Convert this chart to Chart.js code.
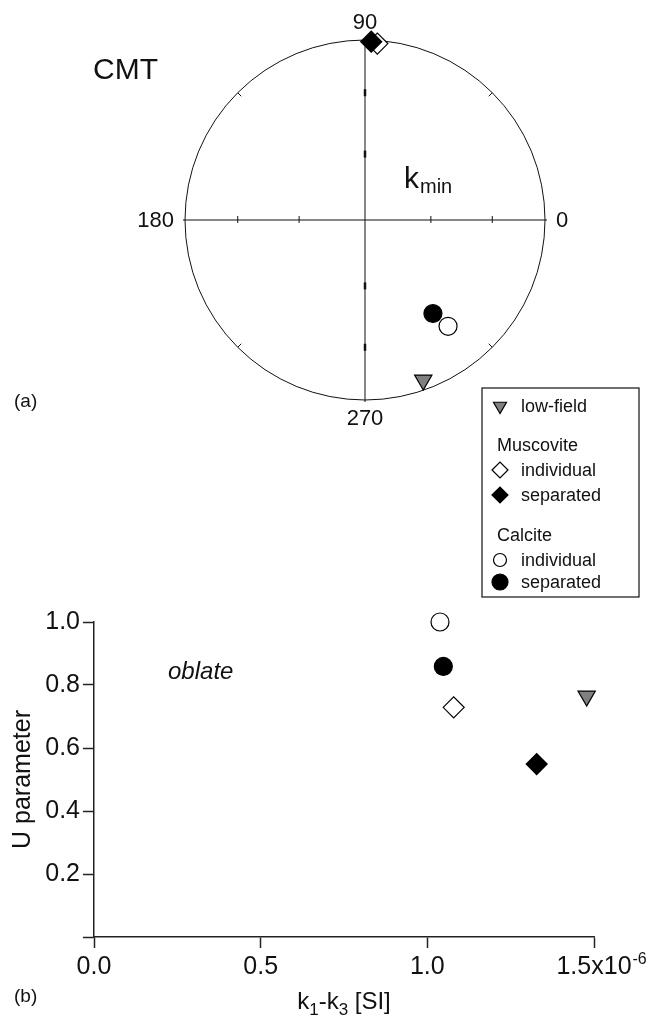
<!DOCTYPE html>
<html>
<head>
<meta charset="utf-8">
<title>CMT k_min and U parameter</title>
<script src="https://cdn.jsdelivr.net/npm/chart.js@4.4.1/dist/chart.umd.min.js"></script>
<style>
  body { margin: 0; background: #fff; }
  .wrap { position: relative; width: 649px; height: 1017px; }
  canvas { position: absolute; left: 0; }
  #net { top: 0; }
  #upar { top: 600px; }
</style>
</head>
<body>
<div class="wrap">
  <canvas id="net" width="649" height="610"></canvas>
  <canvas id="upar" width="649" height="417"></canvas>
</div>
<script>
// sample groups, in legend order
const groups = ['low-field', 'Muscovite individual', 'Muscovite separated', 'Calcite individual', 'Calcite separated'];

// (a) k_min directions: angle round the net and inclination, degrees
const kminDec = [290, 86, 88, 308, 306];
const kminInc = [6, 2, 1, 26, 36];

// (b) k1-k3 (x10^-6 SI) and U parameter
const k1k3 = [1.478, 1.079, 1.328, 1.038, 1.048];
const uParam = [0.765, 0.729, 0.549, 1.0, 0.859];

const xTicks = [0, 0.5, 1.0, 1.5];
const yTicks = [0, 0.2, 0.4, 0.6, 0.8, 1.0];
const netAngles = [0, 90, 180, 270];
const netIncTicks = [30, 60];

const FONT = '"Liberation Sans", Arial, Helvetica, sans-serif';
const INK = '#111';
Chart.defaults.font.family = FONT;
Chart.defaults.color = INK;

const markStyle = {
  'low-field':            { pointStyle: 'triangle', rotation: 180, fill: '#808080', radius: 10,   key: 7.5, order: 0 },
  'Muscovite individual': { pointStyle: 'rectRot',  rotation: 0,   fill: '#ffffff', radius: 10.5, key: 8,   order: 1 },
  'Muscovite separated':  { pointStyle: 'rectRot',  rotation: 0,   fill: '#000000', radius: 10.5, key: 8,   order: 0 },
  'Calcite individual':   { pointStyle: 'circle',   rotation: 0,   fill: '#ffffff', radius: 9,    key: 6.5, order: 1 },
  'Calcite separated':    { pointStyle: 'circle',   rotation: 0,   fill: '#000000', radius: 9,    key: 8,   order: 0 }
};

// equal-area (Schmidt) radius, 1 = primitive circle
function eqArea(inc) {
  return Math.SQRT2 * Math.sin((90 - inc) / 2 * Math.PI / 180);
}

function dataset(g, pt) {
  const m = markStyle[g];
  return {
    label: g,
    data: [pt],
    pointStyle: m.pointStyle,
    rotation: m.rotation,
    radius: m.radius,
    hoverRadius: m.radius,
    backgroundColor: m.fill,
    borderColor: '#000',
    borderWidth: 1.2,
    order: m.order,
    clip: false
  };
}

function keyMark(ctx, g, x, y) {
  const m = markStyle[g];
  ctx.fillStyle = m.fill;
  ctx.strokeStyle = '#000';
  ctx.lineWidth = 1.2;
  Chart.helpers.drawPoint(ctx, { pointStyle: m.pointStyle, rotation: m.rotation, radius: m.key, borderWidth: 1.2 }, x, y);
}

const legendRows = [
  { group: 'low-field', text: 'low-field', y: 406 },
  { text: 'Muscovite', y: 445 },
  { group: 'Muscovite individual', text: 'individual', y: 470 },
  { group: 'Muscovite separated', text: 'separated', y: 495 },
  { text: 'Calcite', y: 535 },
  { group: 'Calcite individual', text: 'individual', y: 560 },
  { group: 'Calcite separated', text: 'separated', y: 582 }
];

const netFrame = {
  id: 'netFrame',
  beforeDatasetsDraw(chart) {
    const { ctx, scales: { x, y } } = chart;
    const cx = x.getPixelForValue(0), cy = y.getPixelForValue(0);
    const R = x.getPixelForValue(1) - cx;
    ctx.save();
    ctx.strokeStyle = INK;
    ctx.lineWidth = 1;
    ctx.beginPath();
    ctx.arc(cx, cy, R, 0, 2 * Math.PI);
    ctx.stroke();
    ctx.beginPath();
    ctx.moveTo(cx - R - 2, cy); ctx.lineTo(cx + R + 2, cy);
    ctx.moveTo(cx, cy - R); ctx.lineTo(cx, cy + R + 2);
    ctx.stroke();
    netIncTicks.forEach(inc => {
      const r = R * eqArea(inc);
      [-1, 1].forEach(s => {
        ctx.lineWidth = 1;
        ctx.beginPath();
        ctx.moveTo(cx + s * r, cy - 4); ctx.lineTo(cx + s * r, cy + 3);
        ctx.stroke();
        ctx.lineWidth = 2.5;
        ctx.beginPath();
        ctx.moveTo(cx, cy + s * r - 3.5); ctx.lineTo(cx, cy + s * r + 3.5);
        ctx.stroke();
      });
    });
    ctx.lineWidth = 1;
    [45, 135, 225, 315].forEach(a => {
      const t = a * Math.PI / 180;
      ctx.beginPath();
      ctx.moveTo(cx + (R - 5) * Math.cos(t), cy - (R - 5) * Math.sin(t));
      ctx.lineTo(cx + R * Math.cos(t), cy - R * Math.sin(t));
      ctx.stroke();
    });
    ctx.restore();
  },
  afterDraw(chart) {
    const { ctx, scales: { x, y } } = chart;
    const cx = x.getPixelForValue(0), cy = y.getPixelForValue(0);
    const R = x.getPixelForValue(1) - cx;
    ctx.save();
    ctx.fillStyle = INK;
    ctx.font = '22px ' + FONT;
    ctx.textBaseline = 'middle';
    netAngles.forEach(a => {
      const t = a * Math.PI / 180;
      const off = (a % 180 === 0) ? 11 : 18;
      ctx.textAlign = a === 0 ? 'left' : a === 180 ? 'right' : 'center';
      ctx.fillText(String(a), cx + (R + off) * Math.cos(t), cy - (R + off) * Math.sin(t) + 1);
    });
    ctx.textAlign = 'left';
    ctx.font = '30px ' + FONT;
    ctx.fillText('CMT', 93, 71);
    ctx.textBaseline = 'alphabetic';
    ctx.fillText('k', 404, 188);
    const kw = ctx.measureText('k').width;
    ctx.font = '20px ' + FONT;
    ctx.fillText('min', 404 + kw + 1, 193);
    ctx.font = '19px ' + FONT;
    ctx.textBaseline = 'middle';
    ctx.fillText('(a)', 14, 402);

    // legend box
    ctx.strokeStyle = INK;
    ctx.lineWidth = 1.2;
    ctx.strokeRect(482, 388, 157, 209);
    ctx.font = '18px ' + FONT;
    legendRows.forEach(row => {
      ctx.fillStyle = INK;
      if (row.group) {
        ctx.save();
        keyMark(ctx, row.group, 500, row.y);
        ctx.restore();
        ctx.fillStyle = INK;
        ctx.fillText(row.text, 521, row.y + 1);
      } else {
        ctx.fillText(row.text, 497, row.y + 1);
      }
    });
    ctx.restore();
  }
};

new Chart(document.getElementById('net'), {
  type: 'scatter',
  data: {
    datasets: groups.map((g, i) => {
      const r = eqArea(kminInc[i]);
      const t = kminDec[i] * Math.PI / 180;
      return dataset(g, { x: r * Math.cos(t), y: r * Math.sin(t) });
    })
  },
  options: {
    responsive: false,
    animation: false,
    events: [],
    layout: { padding: { left: 185, right: 104, top: 40, bottom: 210 } },
    scales: {
      x: { type: 'linear', min: -1, max: 1, display: false },
      y: { type: 'linear', min: -1, max: 1, display: false }
    },
    plugins: { legend: { display: false }, tooltip: { enabled: false } }
  },
  plugins: [netFrame]
});

const uExtras = {
  id: 'uExtras',
  afterDraw(chart) {
    const { ctx, scales: { x, y } } = chart;
    ctx.save();
    ctx.fillStyle = INK;
    // exponent after the last x tick label
    ctx.font = '25px ' + FONT;
    const lw = ctx.measureText('1.5x10').width;
    const ex = x.getPixelForValue(xTicks[xTicks.length - 1]) + lw / 2 + 1;
    ctx.font = '16px ' + FONT;
    ctx.textBaseline = 'alphabetic';
    ctx.textAlign = 'left';
    ctx.fillText('-6', ex, y.bottom + 27);

    ctx.font = 'italic 24px ' + FONT;
    ctx.textBaseline = 'middle';
    ctx.fillText('oblate', 168, 72);

    ctx.font = '19px ' + FONT;
    ctx.fillText('(b)', 14, 397);

    // x title with subscripts
    const parts = [['k', 24, 0], ['1', 17, 6], ['-k', 24, 0], ['3', 17, 6], [' [SI]', 24, 0]];
    let w = 0;
    parts.forEach(p => { ctx.font = p[1] + 'px ' + FONT; w += ctx.measureText(p[0]).width; });
    let px = (x.left + x.right) / 2 - w / 2;
    ctx.textBaseline = 'alphabetic';
    parts.forEach(p => {
      ctx.font = p[1] + 'px ' + FONT;
      ctx.fillText(p[0], px, 409 + p[2]);
      px += ctx.measureText(p[0]).width;
    });
    ctx.restore();
  }
};

const axisInk = '#222';
new Chart(document.getElementById('upar'), {
  type: 'scatter',
  data: {
    datasets: groups.map((g, i) => dataset(g, { x: k1k3[i], y: uParam[i] }))
  },
  options: {
    responsive: false,
    animation: false,
    events: [],
    layout: { padding: { left: 0, right: 55, top: 22, bottom: 0 } },
    scales: {
      x: {
        type: 'linear', min: 0, max: 1.5,
        afterBuildTicks: s => { s.ticks = xTicks.map(v => ({ value: v })); },
        afterFit: s => { s.height = 80; },
        ticks: {
          font: { size: 25 }, color: INK, padding: 4, maxRotation: 0, autoSkip: false,
          callback: v => v === 1.5 ? '1.5x10' : v.toFixed(1)
        },
        grid: { drawOnChartArea: false, drawTicks: true, tickLength: 11, tickColor: axisInk, tickWidth: 1.5 },
        border: { display: true, color: axisInk, width: 1.5 }
      },
      y: {
        type: 'linear', min: 0, max: 1,
        afterBuildTicks: s => { s.ticks = yTicks.map(v => ({ value: v })); },
        afterFit: s => { s.width = 94; },
        ticks: {
          font: { size: 25 }, color: INK, padding: 3, autoSkip: false,
          callback: v => v === 0 ? '' : v.toFixed(1)
        },
        grid: { drawOnChartArea: false, drawTicks: true, tickLength: 11, tickColor: axisInk, tickWidth: 1.5 },
        border: { display: true, color: axisInk, width: 1.5 },
        title: { display: true, text: 'U parameter', font: { size: 25 }, color: INK, padding: { top: 8, bottom: 0 } }
      }
    },
    plugins: { legend: { display: false }, tooltip: { enabled: false } }
  },
  plugins: [uExtras]
});
</script>
</body>
</html>
